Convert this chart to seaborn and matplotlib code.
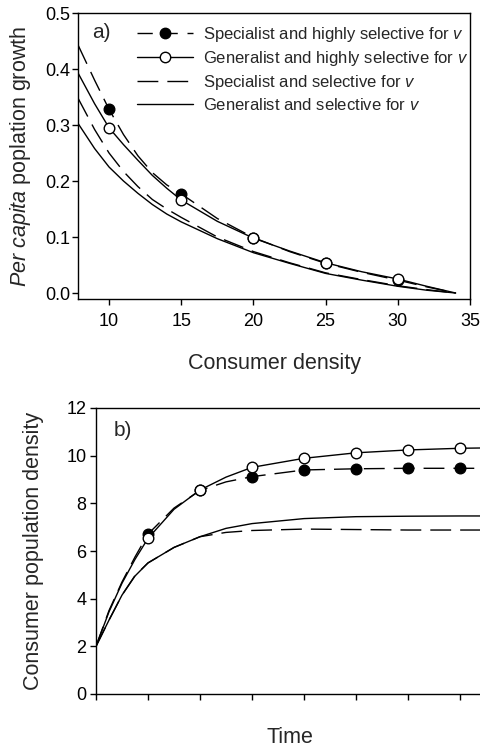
import numpy as np
import pandas as pd
import matplotlib
matplotlib.use("Agg")
import matplotlib.pyplot as plt
from matplotlib.lines import Line2D
import seaborn as sns

# ---------------- data: panel a ----------------
dens = [7.85, 9, 10, 11, 12, 13, 14, 15, 17.5, 20, 22.5, 25, 27.5, 30, 32, 34]
a_spec_high = [0.443, 0.380, 0.328, 0.283, 0.245, 0.215, 0.193, 0.177, 0.133, 0.099, 0.074, 0.053, 0.037, 0.023, 0.011, 0.0]
a_gen_high = [0.393, 0.338, 0.295, 0.265, 0.237, 0.210, 0.187, 0.166, 0.128, 0.098, 0.075, 0.054, 0.038, 0.025, 0.012, 0.0]
a_spec_sel = [0.348, 0.292, 0.250, 0.217, 0.190, 0.167, 0.150, 0.135, 0.100, 0.074, 0.054, 0.036, 0.024, 0.013, 0.006, 0.0]
a_gen_sel = [0.303, 0.258, 0.225, 0.200, 0.178, 0.158, 0.141, 0.127, 0.097, 0.072, 0.053, 0.035, 0.023, 0.012, 0.005, 0.0]
a_mark_x = [10, 15, 20, 25, 30]
a_mark_spec_high = [0.328, 0.177, 0.099, 0.053, 0.023]
a_mark_gen_high = [0.295, 0.166, 0.098, 0.054, 0.025]

# ---------------- data: panel b ----------------
time = [0, 0.25, 0.5, 0.75, 1, 1.5, 2, 2.5, 3, 4, 5, 6, 7, 8]
b_gen_high = [2, 3.45, 4.65, 5.65, 6.53, 7.75, 8.56, 9.10, 9.51, 9.89, 10.12, 10.24, 10.31, 10.34]
b_spec_high = [2, 3.50, 4.70, 5.75, 6.71, 7.80, 8.54, 8.90, 9.12, 9.40, 9.45, 9.47, 9.47, 9.47]
b_gen_sel = [2, 3.10, 4.15, 4.95, 5.50, 6.15, 6.60, 6.95, 7.15, 7.36, 7.44, 7.46, 7.47, 7.47]
b_spec_sel = [2, 3.10, 4.15, 4.97, 5.50, 6.15, 6.60, 6.78, 6.86, 6.92, 6.90, 6.88, 6.88, 6.88]
b_mark_t = [1, 2, 3, 4, 5, 6, 7]
b_mark_gen_high = [6.53, 8.56, 9.51, 9.89, 10.12, 10.24, 10.31]
b_mark_spec_high = [6.71, 8.54, 9.12, 9.40, 9.45, 9.47, 9.47]

labels = [
    r"Specialist and highly selective for $\mathit{v}$",
    r"Generalist and highly selective for $\mathit{v}$",
    r"Specialist and selective for $\mathit{v}$",
    r"Generalist and selective for $\mathit{v}$",
]

sns.set_style("ticks")
plt.rcParams["font.family"] = ["Liberation Sans", "DejaVu Sans"]
plt.rcParams["mathtext.fontset"] = "custom"
plt.rcParams["mathtext.it"] = "Liberation Sans:italic"
plt.rcParams["mathtext.rm"] = "Liberation Sans"
plt.rcParams["axes.edgecolor"] = "black"
plt.rcParams["axes.linewidth"] = 1.0
plt.rcParams["xtick.color"] = "black"
plt.rcParams["ytick.color"] = "black"

DASH = (0, (15, 6.5))
LW = 1.0
MS = 58

W, H = 480, 753
fig = plt.figure(figsize=(W / 100, H / 100), dpi=100)

def frac(l, t, r, b):
    return [l / W, 1 - b / H, (r - l) / W, (b - t) / H]

# ---------------- panel a ----------------
axa = fig.add_axes(frac(78, 13, 470, 299))
sns.lineplot(x=dens, y=a_spec_high, ax=axa, color="black", lw=LW, linestyle=DASH, estimator=None)
sns.lineplot(x=dens, y=a_gen_high, ax=axa, color="black", lw=LW, estimator=None)
sns.lineplot(x=dens, y=a_spec_sel, ax=axa, color="black", lw=LW, linestyle=DASH, estimator=None)
sns.lineplot(x=dens, y=a_gen_sel, ax=axa, color="black", lw=LW, estimator=None)
sns.scatterplot(x=a_mark_x, y=a_mark_spec_high, ax=axa, color="black", edgecolor="black",
                s=MS, linewidth=1, zorder=3)
sns.scatterplot(x=a_mark_x, y=a_mark_gen_high, ax=axa, color="white", edgecolor="black",
                s=MS, linewidth=1, zorder=4)
axa.set_xlim(7.85, 35)
axa.set_ylim(-0.0107, 0.5)
axa.set_xticks([10, 15, 20, 25, 30, 35])
axa.set_yticks([0.0, 0.1, 0.2, 0.3, 0.4, 0.5])
axa.tick_params(axis="x", labelsize=13, length=4, pad=6, width=1)
axa.tick_params(axis="y", labelsize=13, length=4, pad=1.5, width=1)
axa.set_xlabel("Consumer density", fontsize=15.5, va="top")
axa.xaxis.set_label_coords(0.5, -0.19)
axa.set_ylabel(r"$\mathit{Per\ capita}$ poplation growth", fontsize=15.5)
axa.yaxis.set_label_coords(-0.115, 0.5)
axa.text(0.036, 0.965, "a)", transform=axa.transAxes, fontsize=15, va="top", ha="left")

handles = [
    Line2D([], [], color="black", lw=LW, linestyle=(0, (11, 7)), marker="o", markersize=7.5,
           markerfacecolor="black", markeredgecolor="black"),
    Line2D([], [], color="black", lw=LW, marker="o", markersize=7.5,
           markerfacecolor="white", markeredgecolor="black"),
    Line2D([], [], color="black", lw=LW, linestyle=DASH),
    Line2D([], [], color="black", lw=LW),
]
axa.legend(handles, labels, loc="upper left", bbox_to_anchor=(0.15, 0.957), frameon=False,
           fontsize=12, handlelength=3.35, handletextpad=0.6, labelspacing=0.3,
           borderpad=0, borderaxespad=0, numpoints=1)
for s in axa.spines.values():
    s.set_visible(True)

# ---------------- panel b ----------------
axb = fig.add_axes(frac(96, 408, 484, 694))
sns.lineplot(x=time, y=b_spec_high, ax=axb, color="black", lw=LW, linestyle=DASH, estimator=None)
sns.lineplot(x=time, y=b_gen_high, ax=axb, color="black", lw=LW, estimator=None)
sns.lineplot(x=time, y=b_spec_sel, ax=axb, color="black", lw=LW, linestyle=DASH, estimator=None)
sns.lineplot(x=time, y=b_gen_sel, ax=axb, color="black", lw=LW, estimator=None)
sns.scatterplot(x=b_mark_t, y=b_mark_spec_high, ax=axb, color="black", edgecolor="black",
                s=MS, linewidth=1, zorder=3)
sns.scatterplot(x=b_mark_t, y=b_mark_gen_high, ax=axb, color="white", edgecolor="black",
                s=MS, linewidth=1, zorder=4)
axb.set_xlim(0, 7.46)
axb.set_ylim(0, 12)
axb.set_xticks([0, 1, 2, 3, 4, 5, 6, 7])
axb.set_xticklabels([])
axb.set_yticks([0, 2, 4, 6, 8, 10, 12])
axb.tick_params(axis="x", length=4, width=1)
axb.tick_params(axis="y", labelsize=13, length=4, pad=3, width=1)
axb.set_xlabel("Time", fontsize=15.5, va="top")
axb.xaxis.set_label_coords(0.5, -0.115)
axb.set_ylabel("Consumer population density", fontsize=15.5)
axb.yaxis.set_label_coords(-0.134, 0.5)
axb.text(0.045, 0.955, "b)", transform=axb.transAxes, fontsize=15, va="top", ha="left")
for s in axb.spines.values():
    s.set_visible(True)

fig.savefig("out.png", dpi=100)
